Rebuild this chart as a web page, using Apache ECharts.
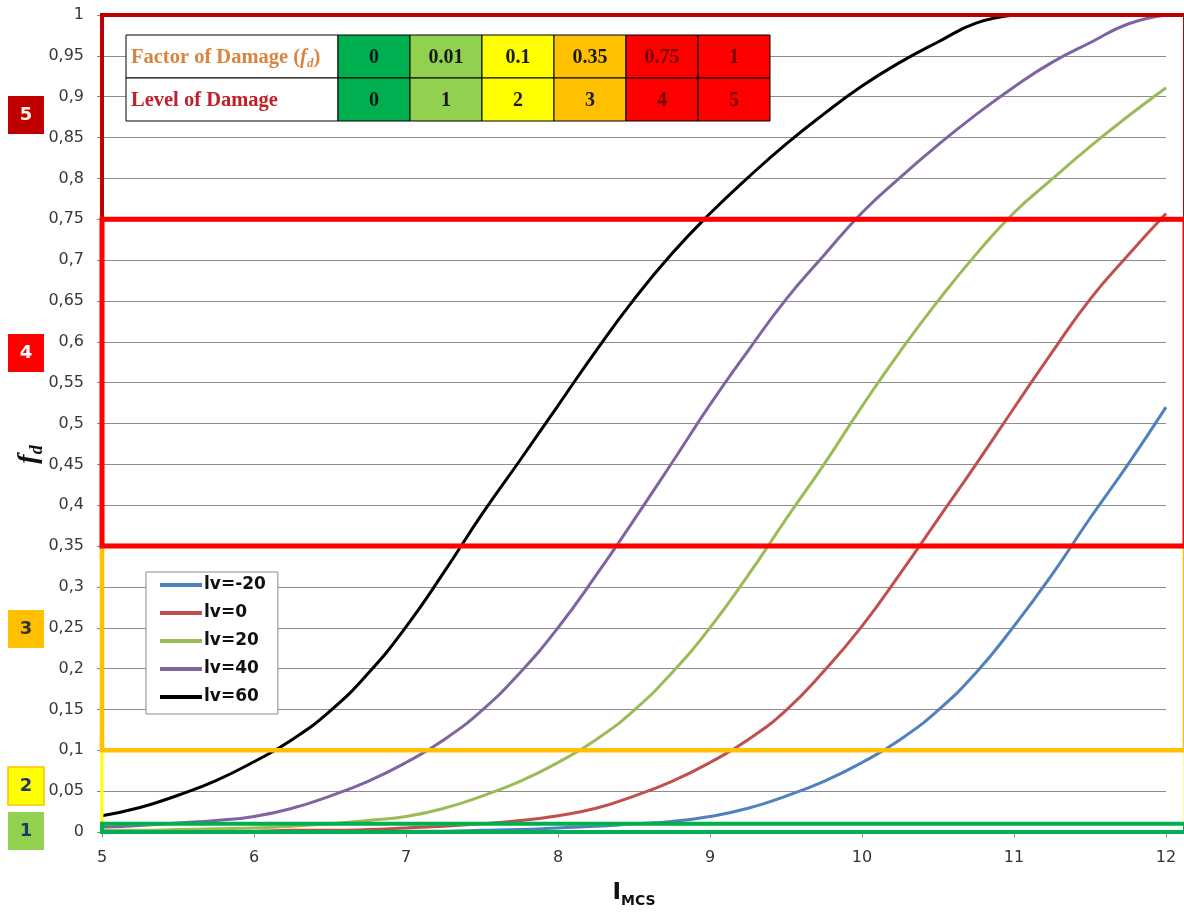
<!DOCTYPE html>
<html>
<head>
<meta charset="utf-8">
<title>Factor of Damage vs I_MCS</title>
<script src="https://cdn.jsdelivr.net/npm/echarts@6/dist/echarts.min.js"></script>
<style>
  html, body { margin: 0; padding: 0; background: #ffffff; }
  #chart { width: 1184px; height: 914px; }
</style>
</head>
<body>
<div id="chart"></div>
<script>
// Macroseismic intensity (x axis)
const intensity = [5, 5.25, 5.5, 5.75, 6, 6.25, 6.5, 6.75, 7, 7.25, 7.5, 7.75, 8, 8.25, 8.5,
  8.75, 9, 9.25, 9.5, 9.75, 10, 10.25, 10.5, 10.75, 11, 11.25, 11.5, 11.75, 12];

// Factor of damage f_d for each vulnerability index lv
const fdLvMinus20 = [0.000, 0.000, 0.000, 0.000, 0.000, 0.000, 0.000, 0.001, 0.001, 0.001, 0.002, 0.003, 0.005, 0.007, 0.010,
  0.013, 0.019, 0.029, 0.044, 0.062, 0.085, 0.113, 0.149, 0.195, 0.252, 0.315, 0.384, 0.450, 0.520];
const fdLv0 = [0.000, 0.000, 0.001, 0.001, 0.001, 0.002, 0.002, 0.003, 0.005, 0.007, 0.010, 0.014, 0.020, 0.029, 0.044,
  0.062, 0.085, 0.113, 0.149, 0.197, 0.252, 0.316, 0.383, 0.450, 0.519, 0.587, 0.652, 0.706, 0.757];
const fdLv20 = [0.002, 0.002, 0.003, 0.004, 0.005, 0.007, 0.010, 0.014, 0.019, 0.029, 0.044, 0.062, 0.085, 0.113, 0.149,
  0.195, 0.250, 0.314, 0.383, 0.450, 0.521, 0.588, 0.650, 0.707, 0.758, 0.799, 0.839, 0.876, 0.911];
const fdLv40 = [0.006, 0.008, 0.011, 0.014, 0.019, 0.029, 0.044, 0.062, 0.085, 0.113, 0.149, 0.195, 0.250, 0.314, 0.382,
  0.452, 0.523, 0.589, 0.652, 0.706, 0.758, 0.801, 0.841, 0.878, 0.912, 0.942, 0.966, 0.989, 1.000];
const fdLv60 = [0.020, 0.030, 0.045, 0.063, 0.086, 0.113, 0.148, 0.194, 0.251, 0.318, 0.389, 0.455, 0.522, 0.589, 0.652,
  0.708, 0.757, 0.801, 0.842, 0.879, 0.913, 0.942, 0.967, 0.990, 1.000, null, null, null, null];

const seriesNames = ['lv=-20', 'lv=0', 'lv=20', 'lv=40', 'lv=60'];
const seriesValues = [fdLvMinus20, fdLv0, fdLv20, fdLv40, fdLv60];

// Damage scale: factor of damage thresholds and the matching damage levels
const damageFactors = [0, 0.01, 0.1, 0.35, 0.75, 1];
const damageLevels = [0, 1, 2, 3, 4, 5];

// ---- styling ----
const lineColors = ['#4F81BD', '#C0504D', '#9BBB59', '#8064A2', '#000000'];
const levelFill = ['#00B050', '#92D050', '#FFFF00', '#FFC000', '#FF0000', '#FF0000'];
// band k spans damageFactors[k-1]..damageFactors[k]
const bandStroke = { 1: '#00B050', 2: '#FFFF00', 3: '#FFC000', 4: '#FF0000', 5: '#C00000' };
const bandWidth = { 1: 4, 2: 3, 3: 4.5, 4: 5, 5: 4 };
const bandDrawOrder = [2, 1, 3, 5, 4];
const badgeFill = { 1: '#92D050', 2: '#FFFF00', 3: '#FFC000', 4: '#FF0000', 5: '#C00000' };
const badgeText = { 1: '#1F3864', 2: '#1F3864', 3: '#333333', 4: '#FFFFFF', 5: '#FFF2E6' };
const badgeTop = { 1: 812, 2: 767, 3: 610, 4: 334, 5: 96 };

const SANS = '"DejaVu Sans", "Liberation Sans", sans-serif';
const SERIF = '"Liberation Serif", "DejaVu Serif", serif';

const chart = echarts.init(document.getElementById('chart'), null, { renderer: 'canvas' });

const lineSeries = seriesNames.map((name, i) => ({
  name,
  type: 'line',
  data: intensity.map((x, j) => [x, seriesValues[i][j]]).filter(p => p[1] !== null),
  smooth: 0.5,
  showSymbol: false,
  symbol: 'none',
  lineStyle: { color: lineColors[i], width: 3 },
  itemStyle: { color: lineColors[i] },
  z: 2
}));

// Damage-level bands outlined across the plot
const bandSeries = {
  type: 'custom',
  coordinateSystem: 'cartesian2d',
  silent: true,
  clip: false,
  z: 5,
  encode: { x: 0, y: [1, 2] },
  data: bandDrawOrder.map(k => [intensity[0], damageFactors[k - 1], damageFactors[k], k]),
  renderItem: function (params, api) {
    const lo = api.value(1), hi = api.value(2), k = api.value(3);
    const tl = api.coord([intensity[0], hi]);
    const br = api.coord([intensity[intensity.length - 1], lo]);
    return {
      type: 'rect',
      shape: { x: tl[0], y: tl[1], width: br[0] - tl[0] + 19, height: br[1] - tl[1] },
      style: { fill: 'none', stroke: bandStroke[k], lineWidth: bandWidth[k] }
    };
  }
};

// Damage scale table (top left)
const tableX = 126, tableY = 35, headW = 212, cellW = 72, rowH = 43;
const graphics = [];
const rows = [
  { head: '{t|Factor of Damage (}{i|f}{s|d}{t|)}', color: '#D9853F', values: damageFactors },
  { head: '{t|Level of Damage}', color: '#C0202A', values: damageLevels }
];
rows.forEach((row, r) => {
  const y = tableY + r * rowH;
  const tok = (extra) => Object.assign({
    fontFamily: SERIF, fontWeight: 'bold', fontSize: 20.5, fill: row.color, color: row.color,
    verticalAlign: 'middle', lineHeight: 26
  }, extra);
  graphics.push({
    type: 'rect', z: 100,
    shape: { x: tableX, y, width: headW, height: rowH },
    style: { fill: '#FFFFFF', stroke: '#000000', lineWidth: 1 }
  });
  graphics.push({
    type: 'text', z: 101, x: tableX + 5, y: y + rowH / 2 + 1,
    style: {
      text: row.head, verticalAlign: 'middle', align: 'left',
      rich: {
        t: tok({}),
        i: tok({ fontStyle: 'italic' }),
        s: tok({ fontStyle: 'italic', fontSize: 13, verticalAlign: 'bottom' })
      }
    }
  });
  row.values.forEach((v, c) => {
    const x = tableX + headW + c * cellW;
    graphics.push({
      type: 'rect', z: 100,
      shape: { x, y, width: cellW, height: rowH },
      style: { fill: levelFill[c], stroke: '#000000', lineWidth: 1 }
    });
    graphics.push({
      type: 'text', z: 101, x: x + cellW / 2, y: y + rowH / 2 + 1,
      style: {
        text: String(v), align: 'center', verticalAlign: 'middle',
        fontFamily: SERIF, fontWeight: 'bold', fontSize: 20,
        fill: c >= 4 ? '#6E0000' : '#1A1A1A'
      }
    });
  });
});

// Damage level badges beside the y axis
damageLevels.slice(1).forEach(lv => {
  graphics.push({
    type: 'rect', z: 100,
    shape: { x: 8, y: badgeTop[lv], width: 36, height: 38 },
    style: { fill: badgeFill[lv], stroke: lv === 2 ? '#FFC000' : badgeFill[lv], lineWidth: lv === 2 ? 1.5 : 0 }
  });
  graphics.push({
    type: 'text', z: 101, x: 26, y: badgeTop[lv] + 19,
    style: {
      text: String(lv), align: 'center', verticalAlign: 'middle',
      fontFamily: SANS, fontWeight: 'bold', fontSize: 18, fill: badgeText[lv]
    }
  });
});

const option = {
  animation: false,
  backgroundColor: '#FFFFFF',
  grid: { left: 102, right: 18, top: 15, bottom: 82, containLabel: false },
  xAxis: {
    type: 'value', min: 5, max: 12, interval: 1,
    name: '{i|I}{s|MCS}',
    nameLocation: 'middle', nameGap: 46,
    nameTextStyle: {
      rich: {
        i: { fontFamily: SANS, fontWeight: 'bold', fontSize: 23, color: '#111111', verticalAlign: 'middle', lineHeight: 30 },
        s: { fontFamily: SANS, fontWeight: 'bold', fontSize: 14, color: '#111111', verticalAlign: 'bottom', lineHeight: 30 }
      }
    },
    axisLine: { show: true, lineStyle: { color: '#868686', width: 1 } },
    axisTick: { show: true, length: 5, lineStyle: { color: '#868686' } },
    axisLabel: { fontFamily: SANS, fontSize: 16, color: '#333333', margin: 18 },
    splitLine: { show: false }
  },
  yAxis: {
    type: 'value', min: 0, max: 1, interval: 0.05,
    name: '{f|f}{d|d}',
    nameLocation: 'middle', nameGap: 56, nameRotate: 90,
    nameMoveOverlap: false,
    nameTextStyle: {
      padding: [0, 62, 0, 0],
      rich: {
        f: { fontFamily: SERIF, fontWeight: 'bold', fontStyle: 'italic', fontSize: 28, color: '#111111', verticalAlign: 'middle', lineHeight: 34 },
        d: { fontFamily: SERIF, fontWeight: 'bold', fontStyle: 'italic', fontSize: 18, color: '#111111', verticalAlign: 'bottom', lineHeight: 34 }
      }
    },
    axisLine: { show: false },
    axisTick: { show: true, length: 5, lineStyle: { color: '#868686' } },
    axisLabel: {
      fontFamily: SANS, fontSize: 16, color: '#383838', margin: 18,
      formatter: v => String(Math.round(v * 100) / 100).replace('.', ',')
    },
    splitLine: { show: true, lineStyle: { color: '#8C8C8C', width: 1 } }
  },
  legend: {
    orient: 'vertical',
    left: 146, top: 572,
    data: seriesNames,
    icon: 'rect',
    itemWidth: 42, itemHeight: 4, itemGap: 8,
    padding: [3, 12, 7, 14],
    backgroundColor: '#FFFFFF',
    borderColor: '#8C8C8C', borderWidth: 1, borderRadius: 0,
    textStyle: { fontFamily: SANS, fontWeight: 'bold', fontSize: 17, color: '#111111', lineHeight: 20, padding: [0, 0, 0, -3] },
    z: 20
  },
  series: [...lineSeries, bandSeries],
  graphic: { elements: graphics }
};

chart.setOption(option);
</script>
</body>
</html>
